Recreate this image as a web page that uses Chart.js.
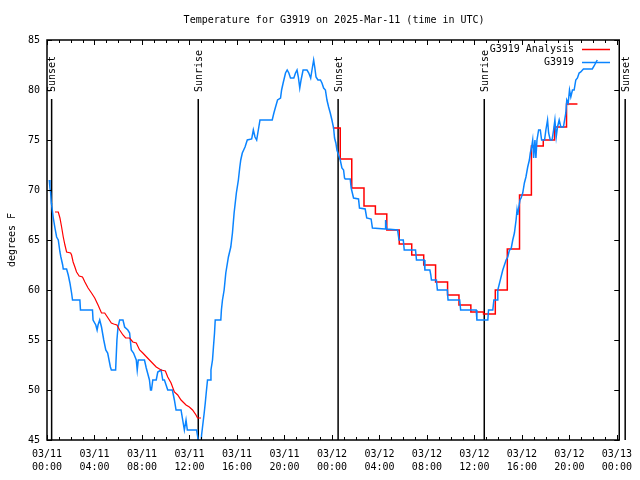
<!DOCTYPE html>
<html><head><meta charset="utf-8">
<script src="https://cdn.jsdelivr.net/npm/chart.js@4/dist/chart.umd.min.js"></script>
<style>html,body{margin:0;padding:0;background:#fff}</style>
</head><body>
<canvas id="c" width="640" height="480"></canvas>
<script>
const chartTitle = 'Temperature for G3919 on 2025-Mar-11 (time in UTC)';
const yAxisLabel = 'degrees F';
const obsLabel = 'G3919';
const anaLabel = 'G3919 Analysis';

// x values are hours since 2025-03-11 00:00 UTC
const xTickHours = [0, 4, 8, 12, 16, 20, 24, 28, 32, 36, 40, 44, 48];
const xTickLabels = [
  ['03/11','00:00'],['03/11','04:00'],['03/11','08:00'],['03/11','12:00'],['03/11','16:00'],['03/11','20:00'],
  ['03/12','00:00'],['03/12','04:00'],['03/12','08:00'],['03/12','12:00'],['03/12','16:00'],['03/12','20:00'],
  ['03/13','00:00']
];
const xMinorTickHours = [1,2,3,5,6,7,9,10,11,13,14,15,17,18,19,21,22,23,25,26,27,29,30,31,33,34,35,37,38,39,41,42,43,45,46,47];
const yTickValues = [45, 50, 55, 60, 65, 70, 75, 80, 85];

// Observations (G3919)
const obsHours = [0.19,0.25,0.31,0.36,0.39,0.53,0.67,0.81,0.95,1.09,1.17,1.32,1.37,1.65,1.79,1.93,2.07,2.15,2.77,2.82,3.83,3.88,4.11,4.22,4.30,4.44,4.59,4.78,4.95,5.11,5.34,5.42,5.78,5.89,5.98,6.12,6.40,6.54,6.81,6.96,7.10,7.29,7.52,7.60,7.69,8.21,8.36,8.63,8.72,8.80,8.91,9.20,9.33,9.61,9.75,9.89,10.03,10.17,10.56,10.73,10.87,11.29,11.43,11.57,11.71,11.82,11.90,12.60,12.74,12.82,12.95,
13.02,13.10,13.24,13.33,13.41,13.52,13.75,13.81,13.94,14.02,14.11,14.17,14.64,14.69,14.78,14.92,15.06,15.28,15.48,15.62,15.76,15.95,16.12,16.24,16.32,16.45,16.68,16.87,17.24,17.38,17.52,17.66,17.80,17.94,18.97,19.11,19.25,19.42,19.67,19.76,19.89,20.09,20.23,20.37,20.51,20.79,20.93,21.06,21.17,21.29,21.40,21.57,21.90,22.05,22.21,22.32,22.46,22.55,22.66,22.82,23.03,23.16,23.30,23.45,23.58,23.72,23.86,24.00,
24.14,24.22,24.33,24.42,24.56,24.70,24.84,24.98,25.06,25.12,25.54,25.62,25.82,26.24,26.32,26.80,26.93,27.30,27.41,28.47,28.52,28.61,29.53,29.65,30.01,30.09,31.04,31.12,31.77,31.83,32.25,32.33,32.38,32.80,32.88,33.72,33.78,34.76,34.84,36.15,36.21,37.13,37.19,37.55,37.64,37.91,37.97,
38.39,38.67,38.81,38.95,39.09,39.23,39.37,39.51,39.59,39.65,39.73,39.84,39.93,40.07,40.21,40.34,40.49,40.63,40.71,40.82,40.91,40.99,41.10,41.18,41.27,41.41,41.55,41.66,41.91,42.02,42.16,42.25,42.39,42.54,42.67,42.78,42.89,43.00,43.14,43.28,43.50,43.70,43.78,43.90,44.01,44.12,44.26,44.40,44.54,44.68,44.82,44.96,45.18,45.93,46.08,46.21,46.35];
const obsTemps = [71.0,70.2,69.7,68.7,68.5,67.2,66.2,65.3,65.0,63.8,63.3,62.5,62.1,62.1,61.5,60.7,59.7,59.0,59.0,58.0,58.0,57.0,56.5,56.0,56.5,57.0,56.3,55.0,54.0,53.7,52.3,52.0,52.0,55.0,56.3,57.0,57.0,56.3,56.0,55.7,54.0,53.7,53.0,52.0,53.0,53.0,52.2,51.0,50.0,50.0,51.0,51.0,51.8,52.0,51.0,51.0,50.5,50.0,50.0,49.0,48.0,48.0,47.0,46.0,47.0,46.0,46.0,46.0,45.0,44.0,44.0,
45.5,46.3,47.7,48.7,49.7,51.0,51.0,52.0,53.0,54.3,55.7,57.0,57.0,58.0,59.0,60.0,61.7,63.3,64.3,65.7,67.7,69.7,71.0,72.3,73.0,73.7,74.3,75.0,75.1,76.0,75.3,75.0,76.0,77.0,77.0,77.7,78.3,79.0,79.2,80.0,80.7,81.7,82.0,81.7,81.2,81.2,81.7,82.0,81.3,80.2,81.0,82.0,82.0,81.7,81.2,82.0,83.0,82.3,81.3,81.0,81.0,80.7,80.2,80.0,79.0,78.3,77.7,77.0,
76.2,75.2,74.7,74.0,73.5,73.0,72.2,72.0,71.2,71.1,71.1,70.2,69.2,69.1,68.2,68.1,67.2,67.1,66.2,66.1,67.0,66.1,66.0,65.0,65.0,64.0,64.0,63.0,63.0,62.0,62.0,61.5,61.0,61.0,60.0,60.0,59.0,59.0,58.0,58.0,57.0,57.0,58.0,58.0,59.0,59.0,60.0,
62.0,63.0,63.3,64.0,64.1,65.0,65.7,67.0,68.0,67.5,68.2,69.0,69.2,69.7,70.7,71.3,72.3,73.0,73.7,74.3,75.0,73.2,75.0,73.2,75.0,76.0,76.0,75.0,75.0,76.0,77.0,75.7,75.0,75.0,76.0,77.0,75.3,76.3,77.0,76.3,76.3,77.7,79.0,78.7,80.0,79.3,80.0,80.0,81.0,81.2,81.7,81.8,82.1,82.1,82.4,82.7,83.0];

// Analysis (G3919 Analysis), first night (continuous) and second period (hourly steps)
const anaNightHours = [0.67,0.95,1.09,1.23,1.37,1.51,1.65,1.99,2.07,2.20,2.35,2.49,2.71,2.99,3.19,3.46,3.75,4.02,4.30,4.59,4.86,5.14,5.42,5.62,5.89,6.12,6.40,6.62,6.96,7.23,7.52,7.80,8.07,8.63,9.20,9.61,9.97,10.17,10.45,10.73,11.01,11.29,11.71,11.99,12.26,12.55,12.68,12.97];
const anaNightTemps = [67.8,67.8,67.2,66.3,65.3,64.5,63.8,63.7,63.5,62.8,62.3,61.8,61.4,61.3,60.8,60.2,59.7,59.2,58.5,57.7,57.7,57.2,56.7,56.6,56.5,56.0,55.5,55.2,55.2,54.8,54.7,54.0,53.7,53.0,52.3,52.0,51.9,51.3,50.7,49.8,49.5,49.0,48.5,48.3,48.0,47.5,47.2,47.2];
const anaStepHours = [24.08,24.70,25.67,26.70,27.66,28.62,29.67,30.72,31.73,32.73,33.74,34.70,35.70,36.77,37.76,38.77,39.80,40.80,41.80,42.75,43.76,44.68];
const anaStepTemps = [76.2,73.1,70.2,68.4,67.6,66.0,64.6,63.5,62.5,60.8,59.5,58.5,57.8,57.6,60.0,64.1,69.5,74.4,75.0,76.3,78.6,78.6];

// Sun events
const sunEventHours = [0.39, 12.74, 24.52, 36.83, 48.7];
const sunEventNames = ['Sunset', 'Sunrise', 'Sunset', 'Sunrise', 'Sunset'];

const FONT = 'DejaVu Sans Mono';
const BLUE = '#0a84ff';
const RED = '#ff0000';

function pts(xs, ys) { return xs.map((x, i) => ({x: x, y: ys[i]})); }

const decor = {
  id: 'decor',
  beforeDatasetsDraw(chart) {
    const ctx = chart.ctx, xs = chart.scales.x, ys = chart.scales.y;
    ctx.save();
    ctx.strokeStyle = '#000';
    ctx.lineWidth = 1.5;
    ctx.fillStyle = '#000';
    ctx.font = '10px "' + FONT + '"';
    sunEventHours.forEach((h, i) => {
      const x = xs.getPixelForValue(h);
      ctx.beginPath();
      ctx.moveTo(x, ys.getPixelForValue(79.1));
      ctx.lineTo(x, chart.chartArea.bottom);
      ctx.stroke();
      ctx.save();
      ctx.translate(x + 1, ys.getPixelForValue(79.8));
      ctx.rotate(-Math.PI / 2);
      ctx.textAlign = 'left';
      ctx.textBaseline = 'middle';
      ctx.fillText(sunEventNames[i], 0, 0);
      ctx.restore();
    });
    ctx.restore();
  },
  afterDatasetsDraw(chart) {
    const ctx = chart.ctx, xs = chart.scales.x, ys = chart.scales.y, a = chart.chartArea;
    ctx.save();
    ctx.strokeStyle = '#000';
    ctx.lineWidth = 1.5;
    ctx.strokeRect(a.left, a.top, a.right - a.left, a.bottom - a.top);
    ctx.lineWidth = 1;
    ctx.beginPath();
    xTickHours.forEach(h => {
      const x = Math.round(xs.getPixelForValue(h)) + 0.5;
      ctx.moveTo(x, a.bottom); ctx.lineTo(x, a.bottom - 5);
      ctx.moveTo(x, a.top); ctx.lineTo(x, a.top + 5);
    });
    xMinorTickHours.forEach(h => {
      const x = Math.round(xs.getPixelForValue(h)) + 0.5;
      ctx.moveTo(x, a.bottom); ctx.lineTo(x, a.bottom - 3);
      ctx.moveTo(x, a.top); ctx.lineTo(x, a.top + 3);
    });
    yTickValues.forEach(v => {
      const y = Math.round(ys.getPixelForValue(v)) + 0.5;
      ctx.moveTo(a.left, y); ctx.lineTo(a.left + 5, y);
      ctx.moveTo(a.right, y); ctx.lineTo(a.right - 5, y);
    });
    ctx.stroke();

    ctx.fillStyle = '#000';
    ctx.font = '10px "' + FONT + '"';
    // title
    ctx.textAlign = 'center';
    ctx.textBaseline = 'middle';
    ctx.fillText(chartTitle, (a.left + a.right) / 2 + 1, 20);
    // y axis label
    ctx.save();
    ctx.translate(12, (a.top + a.bottom) / 2);
    ctx.rotate(-Math.PI / 2);
    ctx.fillText(yAxisLabel, 0, 0);
    ctx.restore();
    // legend
    const rows = chart.data.datasets.filter(d => !d.hideInKey);
    rows.forEach((d, i) => {
      const y = 49.5 + i * 13;
      ctx.textAlign = 'right';
      ctx.fillStyle = '#000';
      ctx.fillText(d.label, 574, y);
      ctx.strokeStyle = d.borderColor;
      ctx.lineWidth = 1.5;
      ctx.beginPath();
      ctx.moveTo(582, y); ctx.lineTo(610, y);
      ctx.stroke();
    });
    ctx.restore();
  }
};

new Chart(document.getElementById('c'), {
  type: 'line',
  data: {
    datasets: [
      {label: anaLabel, data: pts(anaNightHours, anaNightTemps), borderColor: RED, borderWidth: 1.2, pointRadius: 0, fill: false, tension: 0},
      {label: obsLabel, data: pts(obsHours, obsTemps), borderColor: BLUE, borderWidth: 1.5, pointRadius: 0, fill: false, tension: 0},
      {label: anaLabel, hideInKey: true, data: pts(anaStepHours, anaStepTemps), borderColor: RED, borderWidth: 1.5, pointRadius: 0, fill: false, stepped: 'before'}
    ]
  },
  options: {
    responsive: false,
    animation: false,
    devicePixelRatio: 1,
    layout: {padding: {left: 0, right: 18, top: 40, bottom: 0}},
    plugins: {legend: {display: false}, tooltip: {enabled: false}, title: {display: false}},
    scales: {
      x: {
        type: 'linear', min: 0, max: 48.2,
        afterBuildTicks: s => { s.ticks = xTickHours.map(v => ({value: v})); },
        afterFit: s => { s.height = 40; },
        grid: {display: false, drawTicks: false}, border: {display: false},
        ticks: {
          autoSkip: false, maxRotation: 0, minRotation: 0, padding: 8, color: '#000',
          font: {family: FONT, size: 10, lineHeight: 1.3},
          callback: v => xTickLabels[xTickHours.indexOf(v)]
        }
      },
      y: {
        type: 'linear', min: 45, max: 85,
        afterBuildTicks: s => { s.ticks = yTickValues.map(v => ({value: v})); },
        afterFit: s => { s.width = 47; },
        grid: {display: false, drawTicks: false}, border: {display: false},
        ticks: {padding: 7, color: '#000', font: {family: FONT, size: 10}}
      }
    }
  },
  plugins: [decor]
});
</script>
</body></html>
